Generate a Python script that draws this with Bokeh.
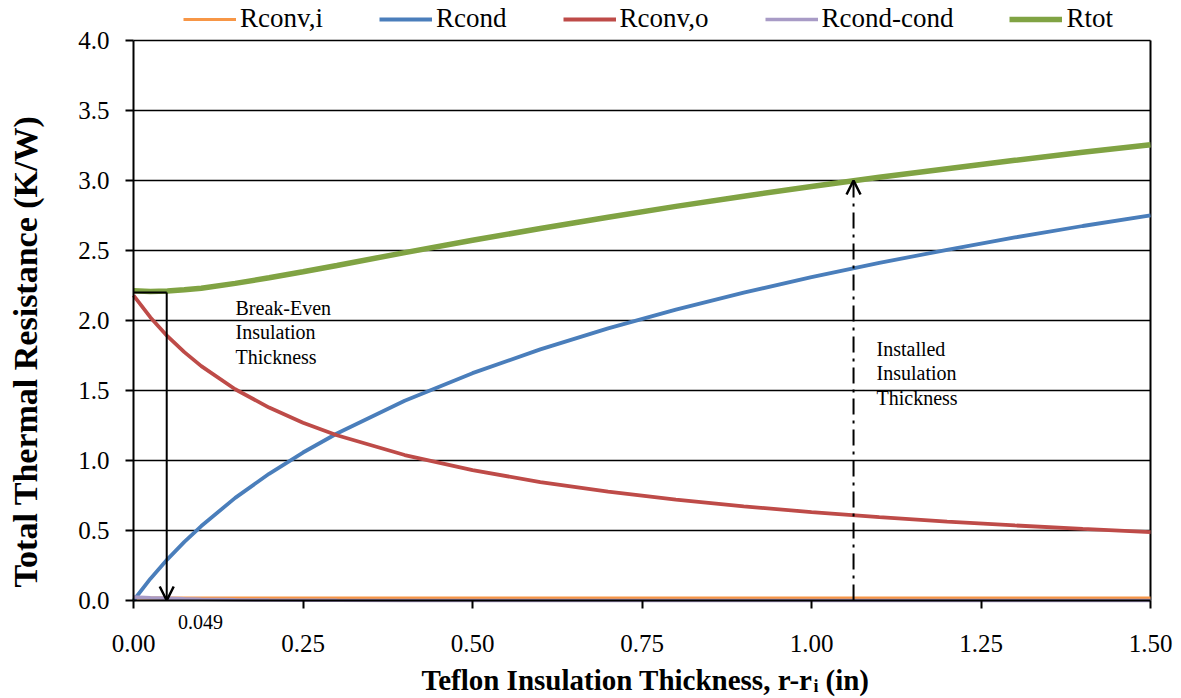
from math import pi
from bokeh.plotting import figure
from bokeh.models import (Range1d, FixedTicker, NumeralTickFormatter, Legend, LegendItem,
                          Label, Arrow, OpenHead, ColumnDataSource)
from bokeh.embed import file_html
from bokeh.resources import INLINE

# ---- data ----
thickness = [0, 0.025, 0.05, 0.075, 0.1, 0.15, 0.2, 0.25, 0.3, 0.4, 0.5, 0.6, 0.7,
             0.8, 0.9, 1.0, 1.1, 1.2, 1.3, 1.4, 1.5]
r_conv_i = [0.018] * 21
r_cond = [0.0, 0.156, 0.294, 0.419, 0.532, 0.733, 0.905, 1.057, 1.193, 1.427, 1.624,
          1.794, 1.944, 2.078, 2.199, 2.310, 2.411, 2.505, 2.593, 2.675, 2.751]
r_conv_o = [2.180, 2.022, 1.888, 1.774, 1.674, 1.509, 1.378, 1.270, 1.180, 1.039, 0.931,
            0.846, 0.777, 0.721, 0.673, 0.631, 0.596, 0.564, 0.536, 0.512, 0.489]
r_cond_cond = [0.025, 0.020, 0.016, 0.012, 0.009, 0.005, 0.003, 0.002, 0.001, 0.0, 0.0,
               0.0, 0.0, 0.0, 0.0, 0.0, 0.0, 0.0, 0.0, 0.0, 0.0]
r_tot = [2.212, 2.208, 2.210, 2.219, 2.231, 2.265, 2.305, 2.348, 2.393, 2.485, 2.573,
         2.657, 2.738, 2.815, 2.888, 2.957, 3.023, 3.084, 3.144, 3.202, 3.255]

series_names = ["Rconv,i", "Rcond", "Rconv,o", "Rcond-cond", "Rtot"]
x_ticks = [0, 0.25, 0.5, 0.75, 1.0, 1.25, 1.5]
y_ticks = [0, 0.5, 1.0, 1.5, 2.0, 2.5, 3.0, 3.5, 4.0]
x_lim = (0, 1.5)
y_lim = (0, 4.0)

break_even_x = 0.049
break_even_r = 2.2
installed_x = 1.062
installed_r = 3.0

SERIF = "Liberation Serif"
W, H = 1181, 698
# plot-area placement in the canvas (pixels)
LEFT, RIGHT, TOP, BOTTOM = 133, 1150, 40, 600
sx = (RIGHT - LEFT) / (x_lim[1] - x_lim[0])
sy = (BOTTOM - TOP) / (y_lim[1] - y_lim[0])

def dx(px):
    return x_lim[0] + (px - LEFT) / sx

def dy(py):
    return y_lim[0] + (BOTTOM - py) / sy

# The frame covers the whole canvas so nothing is clipped; the axes sit at 0.
p = figure(width=W, height=H, output_backend="svg", toolbar_location=None,
           x_range=Range1d(dx(0), dx(W)), y_range=Range1d(dy(H), dy(0)),
           min_border=0)
p.background_fill_color = "white"
p.border_fill_color = "white"
p.outline_line_color = None
p.xgrid.visible = False
p.ygrid.visible = False

# horizontal gridlines and right-hand frame line, limited to the plot area
p.segment(x0=[x_lim[0]] * (len(y_ticks) - 1), x1=[x_lim[1]] * (len(y_ticks) - 1),
          y0=y_ticks[1:], y1=y_ticks[1:], line_color="black", line_width=1.5)
p.segment(x0=[x_lim[1]], x1=[x_lim[1]], y0=[y_lim[0]], y1=[y_lim[1]],
          line_color="black", line_width=2)

# axes
for ax in (p.xaxis[0], p.yaxis[0]):
    ax.axis_line_color = "black"
    ax.axis_line_width = 2
    ax.major_tick_line_color = "black"
    ax.major_tick_line_width = 2
    ax.major_tick_in = 0
    ax.major_tick_out = 8
    ax.minor_tick_line_color = None
    ax.major_label_text_font = SERIF
    ax.major_label_text_font_size = "25px"
    ax.major_label_text_color = "black"
p.xaxis.fixed_location = y_lim[0]
p.yaxis.fixed_location = x_lim[0]
p.xaxis.bounds = x_lim
p.yaxis.bounds = y_lim
p.xaxis.ticker = FixedTicker(ticks=x_ticks)
p.yaxis.ticker = FixedTicker(ticks=y_ticks)
p.xaxis.formatter = NumeralTickFormatter(format="0.00")
p.yaxis.formatter = NumeralTickFormatter(format="0.0")
p.xaxis.major_label_standoff = 26
p.yaxis.major_label_standoff = 16

src = ColumnDataSource(dict(x=thickness, a=r_conv_i, b=r_cond, c=r_conv_o,
                            d=r_cond_cond, e=r_tot))
colors = ["#F79646", "#4A7EBB", "#BE4B48", "#A89BC6", "#80A343"]
widths = [3, 3.8, 3.8, 3.5, 5.5]
renderers = []
for col, c, w in zip(["a", "b", "c", "d", "e"], colors, widths):
    renderers.append(p.line("x", col, source=src, line_color=c, line_width=w))

# break-even annotation
p.line([x_lim[0], break_even_x], [break_even_r, break_even_r], line_color="black", line_width=2)
p.add_layout(Arrow(x_start=break_even_x, y_start=break_even_r, x_end=break_even_x, y_end=0,
                   line_color="black", line_width=2,
                   end=OpenHead(size=14, line_color="black", line_width=2.5)))
# installed annotation
p.add_layout(Arrow(x_start=installed_x, y_start=0, x_end=installed_x, y_end=installed_r,
                   line_color="black", line_width=2, line_dash="16 6 3 6",
                   end=OpenHead(size=14, line_color="black", line_width=2.5)))

def add_text(px, py, txt, size="20px", bold=False, align="left", baseline="middle", angle=0):
    p.add_layout(Label(x=dx(px), y=dy(py), text=txt, text_font=SERIF, text_font_size=size,
                       text_font_style="bold" if bold else "normal", text_color="black",
                       text_align=align, text_baseline=baseline, angle=angle))

for i, t in enumerate(["Break-Even", "Insulation", "Thickness"]):
    add_text(235, 307 + i * 24.5, t)
for i, t in enumerate(["Installed", "Insulation", "Thickness"]):
    add_text(876, 348 + i * 24.5, t)
add_text(200, 621, "0.049", size="20px", align="center")

# x axis title with subscript
add_text(812, 679, "Teflon Insulation Thickness, r-r", size="29px", bold=True,
         align="right", baseline="alphabetic")
add_text(813, 685, "i", size="18px", bold=True, baseline="alphabetic")
add_text(825, 679, "(in)", size="29px", bold=True, baseline="alphabetic")
# y axis title
add_text(25, 351, "Total Thermal Resistance (K/W)", size="34px", bold=True,
         align="center", baseline="middle", angle=pi / 2)

legend = Legend(items=[LegendItem(label=n, renderers=[r]) for n, r in zip(series_names, renderers)],
                orientation="horizontal", location=(183, H - 34),
                glyph_width=53, glyph_height=20, label_standoff=4, spacing=56,
                padding=0, margin=0, border_line_color=None, background_fill_alpha=0,
                label_text_font=SERIF, label_text_font_size="27px", label_text_color="black")
p.add_layout(legend, "center")

open("out.html", "w").write(file_html(p, INLINE))
